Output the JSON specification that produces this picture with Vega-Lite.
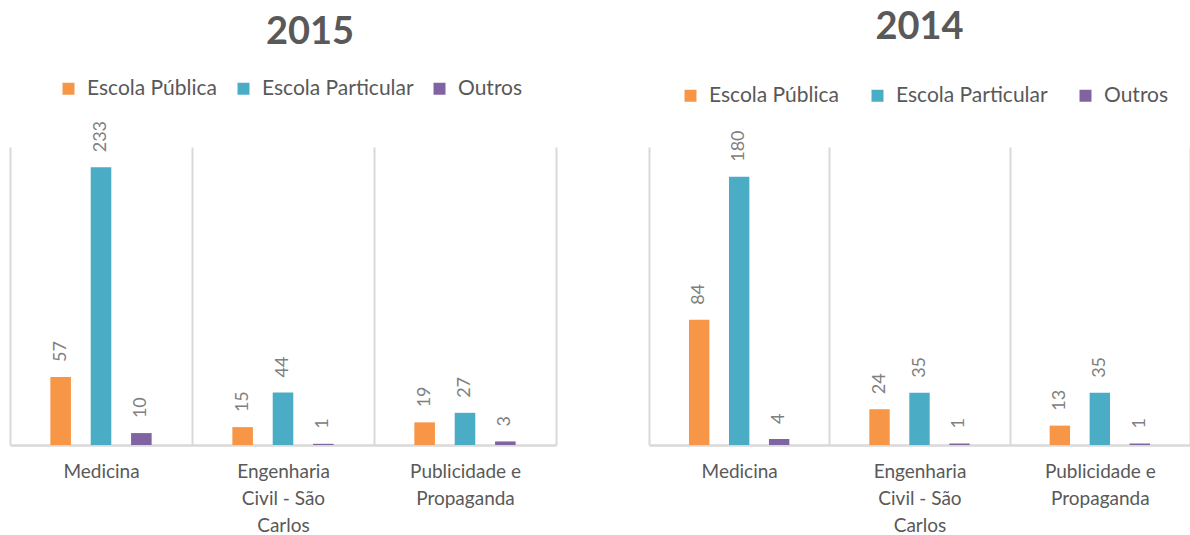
{
  "$schema": "https://vega.github.io/schema/vega-lite/v6.json",
  "padding": {"left": 10, "top": 9, "right": 0, "bottom": 0},
  "background": "white",
  "spacing": 93,
  "datasets": {
    "d": [
      {"ano": "2015", "curso": "Medicina", "tipo": "Escola Pública", "valor": 57},
      {"ano": "2015", "curso": "Medicina", "tipo": "Escola Particular", "valor": 233},
      {"ano": "2015", "curso": "Medicina", "tipo": "Outros", "valor": 10},
      {"ano": "2015", "curso": "Engenharia Civil - São Carlos", "tipo": "Escola Pública", "valor": 15},
      {"ano": "2015", "curso": "Engenharia Civil - São Carlos", "tipo": "Escola Particular", "valor": 44},
      {"ano": "2015", "curso": "Engenharia Civil - São Carlos", "tipo": "Outros", "valor": 1},
      {"ano": "2015", "curso": "Publicidade e Propaganda", "tipo": "Escola Pública", "valor": 19},
      {"ano": "2015", "curso": "Publicidade e Propaganda", "tipo": "Escola Particular", "valor": 27},
      {"ano": "2015", "curso": "Publicidade e Propaganda", "tipo": "Outros", "valor": 3},
      {"ano": "2014", "curso": "Medicina", "tipo": "Escola Pública", "valor": 84},
      {"ano": "2014", "curso": "Medicina", "tipo": "Escola Particular", "valor": 180},
      {"ano": "2014", "curso": "Medicina", "tipo": "Outros", "valor": 4},
      {"ano": "2014", "curso": "Engenharia Civil - São Carlos", "tipo": "Escola Pública", "valor": 24},
      {"ano": "2014", "curso": "Engenharia Civil - São Carlos", "tipo": "Escola Particular", "valor": 35},
      {"ano": "2014", "curso": "Engenharia Civil - São Carlos", "tipo": "Outros", "valor": 1},
      {"ano": "2014", "curso": "Publicidade e Propaganda", "tipo": "Escola Pública", "valor": 13},
      {"ano": "2014", "curso": "Publicidade e Propaganda", "tipo": "Escola Particular", "valor": 35},
      {"ano": "2014", "curso": "Publicidade e Propaganda", "tipo": "Outros", "valor": 1}
    ]
  },
  "data": {"name": "d"},
  "resolve": {"scale": {"y": "independent", "color": "independent", "x": "independent", "xOffset": "independent"}, "legend": {"color": "independent"}},
  "hconcat": [
    {
      "width": 546,
      "height": 298,
      "title": {"text": "2015", "dx": 27, "offset": 26},
      "transform": [{"filter": "datum.ano == '2015'"}],
      "encoding": {
        "x": {"field": "curso", "type": "nominal", "sort": ["Medicina", "Engenharia Civil - São Carlos", "Publicidade e Propaganda"],
              "scale": {"paddingInner": 0, "paddingOuter": 0}, "title": null},
        "xOffset": {"field": "tipo", "type": "nominal", "sort": ["Escola Pública", "Escola Particular", "Outros"],
                    "scale": {"paddingInner": 0.49, "paddingOuter": 1.17}},
        "y": {"field": "valor", "type": "quantitative", "scale": {"domain": [0, 250], "nice": false}, "axis": null}
      },
      "layer": [
        {"mark": {"type": "bar"},
         "encoding": {"color": {"field": "tipo", "type": "nominal", "sort": ["Escola Pública", "Escola Particular", "Outros"],
                                "scale": {"domain": ["Escola Pública", "Escola Particular", "Outros"], "range": ["#F79646", "#4BACC6", "#8064A2"]},
                                "legend": {"orient": "none", "legendX": 48, "legendY": -69, "direction": "horizontal", "columnPadding": 15, "title": null}}}},
        {"mark": {"type": "text", "angle": 270, "align": "left", "baseline": "middle", "dx": 15, "fontSize": 18, "font": "Lato", "color": "#808080"},
         "encoding": {"text": {"field": "valor", "type": "quantitative"}}}
      ]
    },
    {
      "width": 541,
      "height": 298,
      "title": {"text": "2014", "dx": 0, "offset": 38},
      "transform": [{"filter": "datum.ano == '2014'"}],
      "encoding": {
        "x": {"field": "curso", "type": "nominal", "sort": ["Medicina", "Engenharia Civil - São Carlos", "Publicidade e Propaganda"],
              "scale": {"paddingInner": 0, "paddingOuter": 0}, "title": null},
        "xOffset": {"field": "tipo", "type": "nominal", "sort": ["Escola Pública", "Escola Particular", "Outros"],
                    "scale": {"paddingInner": 0.49, "paddingOuter": 1.17}},
        "y": {"field": "valor", "type": "quantitative", "scale": {"domain": [0, 200], "nice": false}, "axis": null}
      },
      "layer": [
        {"mark": {"type": "bar"},
         "encoding": {"color": {"field": "tipo", "type": "nominal", "sort": ["Escola Pública", "Escola Particular", "Outros"],
                                "scale": {"domain": ["Escola Pública", "Escola Particular", "Outros"], "range": ["#F79646", "#4BACC6", "#8064A2"]},
                                "legend": {"orient": "none", "legendX": 31, "legendY": -62, "direction": "horizontal", "columnPadding": 27, "title": null}}}},
        {"mark": {"type": "text", "angle": 270, "align": "left", "baseline": "middle", "dx": 15, "fontSize": 18, "font": "Lato", "color": "#808080"},
         "encoding": {"text": {"field": "valor", "type": "quantitative"}}}
      ]
    }
  ],
  "config": {
    "view": {"stroke": null},
    "font": "Lato",
    "title": {"fontSize": 38, "fontWeight": "bold", "color": "#595959", "font": "Lato", "anchor": "middle"},
    "legend": {"labelFontSize": 21, "labelFont": "Lato", "labelColor": "#595959", "symbolType": "square", "symbolSize": 144, "symbolStrokeWidth": 0, "labelOffset": 8, "labelLimit": 300},
    "axisX": {
      "labelAngle": 0, "labelFontSize": 19, "labelFont": "Lato", "labelColor": "#595959", "labelPadding": 17, "labelLineHeight": 27,
      "labelBaseline": "top",
      "labelExpr": "datum.value == 'Engenharia Civil - São Carlos' ? ['Engenharia', 'Civil - São', 'Carlos'] : datum.value == 'Publicidade e Propaganda' ? ['Publicidade e', 'Propaganda'] : datum.value",
      "ticks": false, "tickBand": "extent", "grid": true, "gridColor": "#d9d9d9", "gridWidth": 2,
      "domainColor": "#d9d9d9", "domainWidth": 2.5
    }
  }
}
